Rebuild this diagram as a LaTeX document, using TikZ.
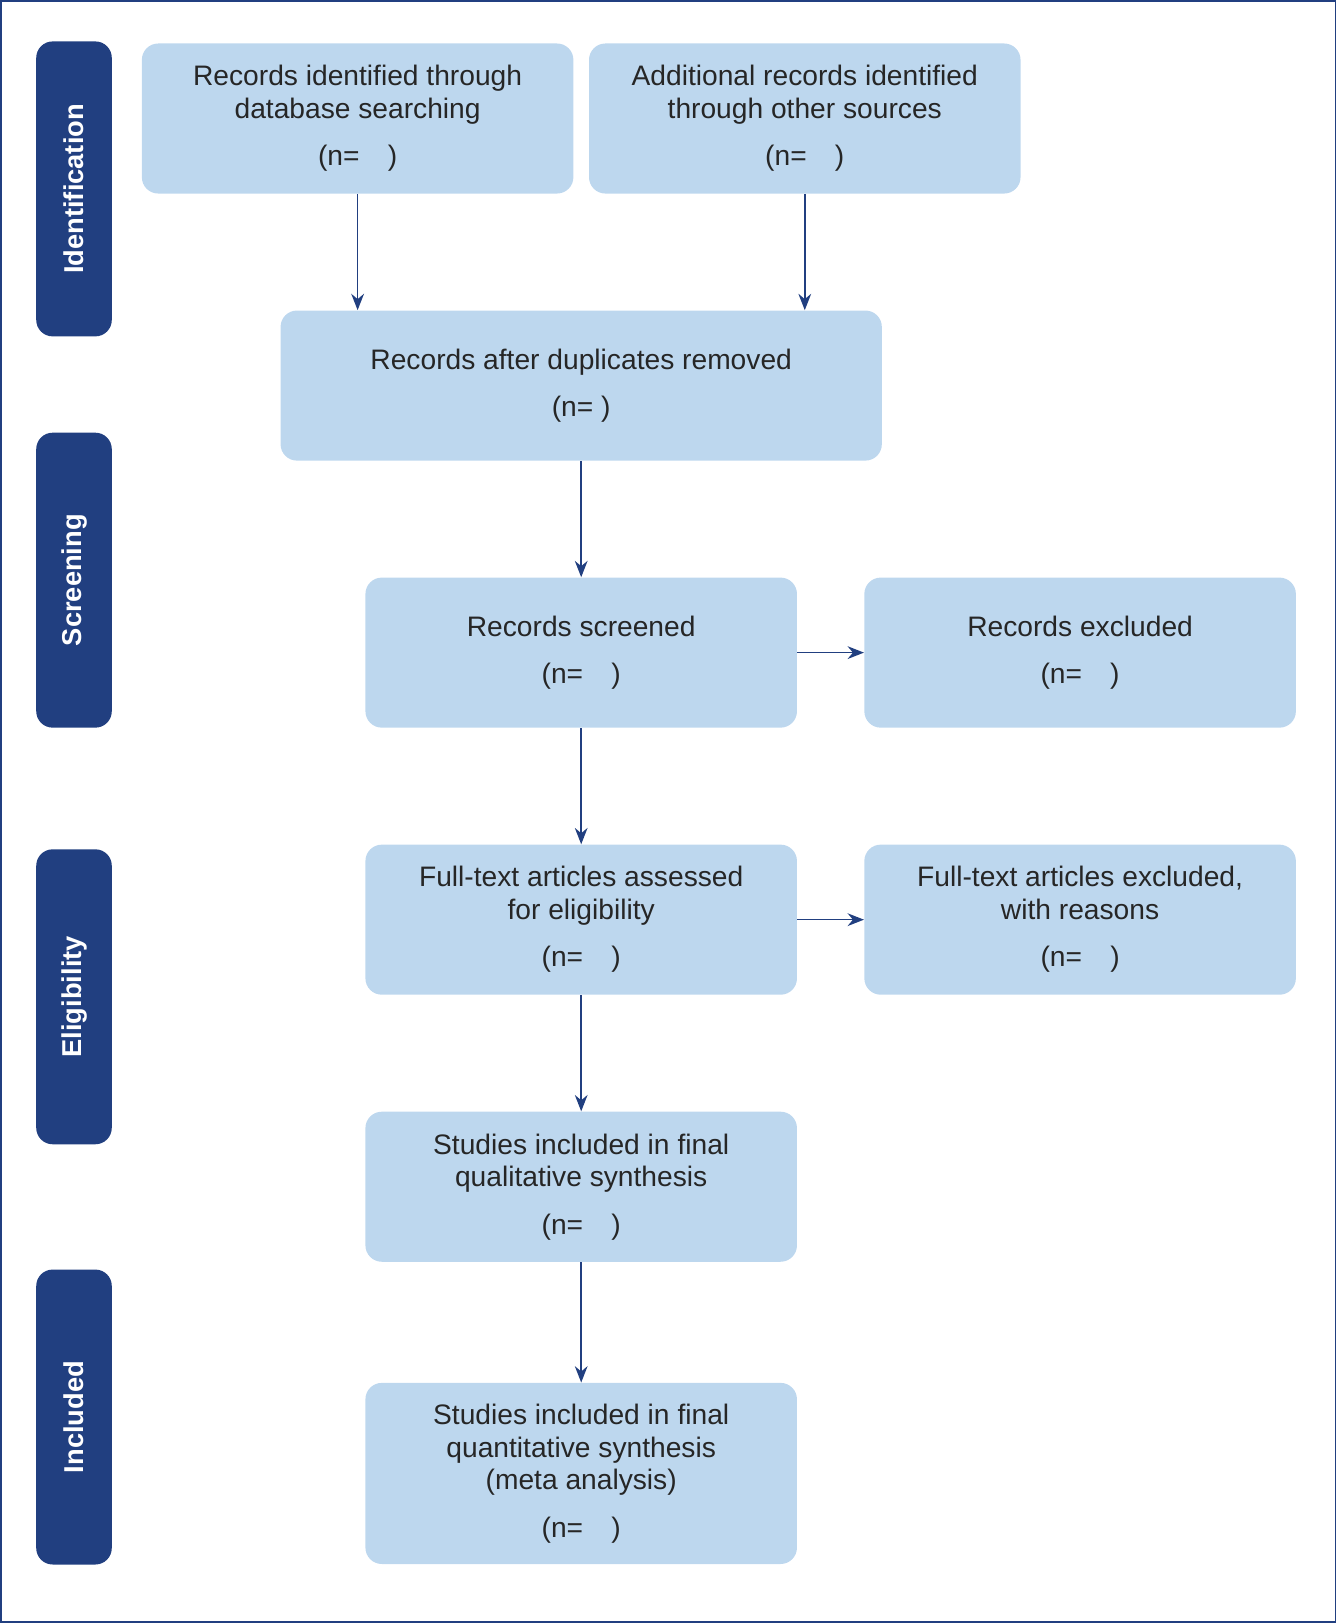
\documentclass[tikz,border=0pt]{standalone}
\usepackage{fontspec}
\setmainfont{Liberation Sans}
\usetikzlibrary{arrows.meta,positioning}
\definecolor{navy}{HTML}{213F80}
\definecolor{paleblue}{HTML}{BDD7EE}
\begin{document}
\begin{tikzpicture}[x=0.02cm,y=-0.02cm,
  box/.style={fill=paleblue,rounded corners=9pt,align=center,minimum width=8.34cm,minimum height=2.9cm,
    font=\fontsize{15.5}{18}\selectfont,text=black!85},
  phase/.style={fill=navy,rounded corners=9pt,rotate=90,minimum width=5.7cm,minimum height=1.46cm,
    font=\fontsize{15}{18}\selectfont\bfseries,text=white},
  flow/.style={navy,line width=0.9pt,-{Stealth[length=9pt,width=7pt]}}]
\useasboundingbox (0,0) rectangle (1291,1568);
\draw[navy,line width=0.8pt] (1,1) rectangle (1290,1567);
% phases
\node[phase] (ident) at (71.5,182.5) {Identification};
\node[phase] (screen) at (71.5,560.5) {Screening};
\node[phase] (elig) at (71.5,963) {Eligibility};
\node[phase] (incl) at (71.5,1369) {Included};
% boxes
\node[box] (dbase) at (345.5,114.5) {Records identified through\\database searching\\[8pt](n=\quad)};
\node[box] (other) at (777.5,114.5) {Additional records identified\\through other sources\\[8pt](n=\quad)};
\node[box,minimum width=11.62cm] (dupl) at (561.5,372.5) {Records after duplicates removed\\[8pt](n= )};
\node[box] (scrnd) at (561.5,630.5) {Records screened\\[8pt](n=\quad)};
\node[box] (excl) at (1043.5,630.5) {Records excluded\\[8pt](n=\quad)};
\node[box] (full) at (561.5,888.5) {Full-text articles assessed\\for eligibility\\[8pt](n=\quad)};
\node[box] (fullexcl) at (1043.5,888.5) {Full-text articles excluded,\\with reasons\\[8pt](n=\quad)};
\node[box] (qual) at (561.5,1146.5) {Studies included in final\\qualitative synthesis\\[8pt](n=\quad)};
\node[box,minimum height=3.5cm] (quant) at (561.5,1423.5) {Studies included in final\\quantitative synthesis\\(meta analysis)\\[8pt](n=\quad)};
% arrows
\draw[flow] (dbase.south) -- (dbase.south |- dupl.north);
\draw[flow] (other.south) -- (other.south |- dupl.north);
\draw[flow] (dupl) -- (scrnd);
\draw[flow] (scrnd) -- (excl);
\draw[flow] (scrnd) -- (full);
\draw[flow] (full) -- (fullexcl);
\draw[flow] (full) -- (qual);
\draw[flow] (qual) -- (quant);
\end{tikzpicture}
\end{document}
